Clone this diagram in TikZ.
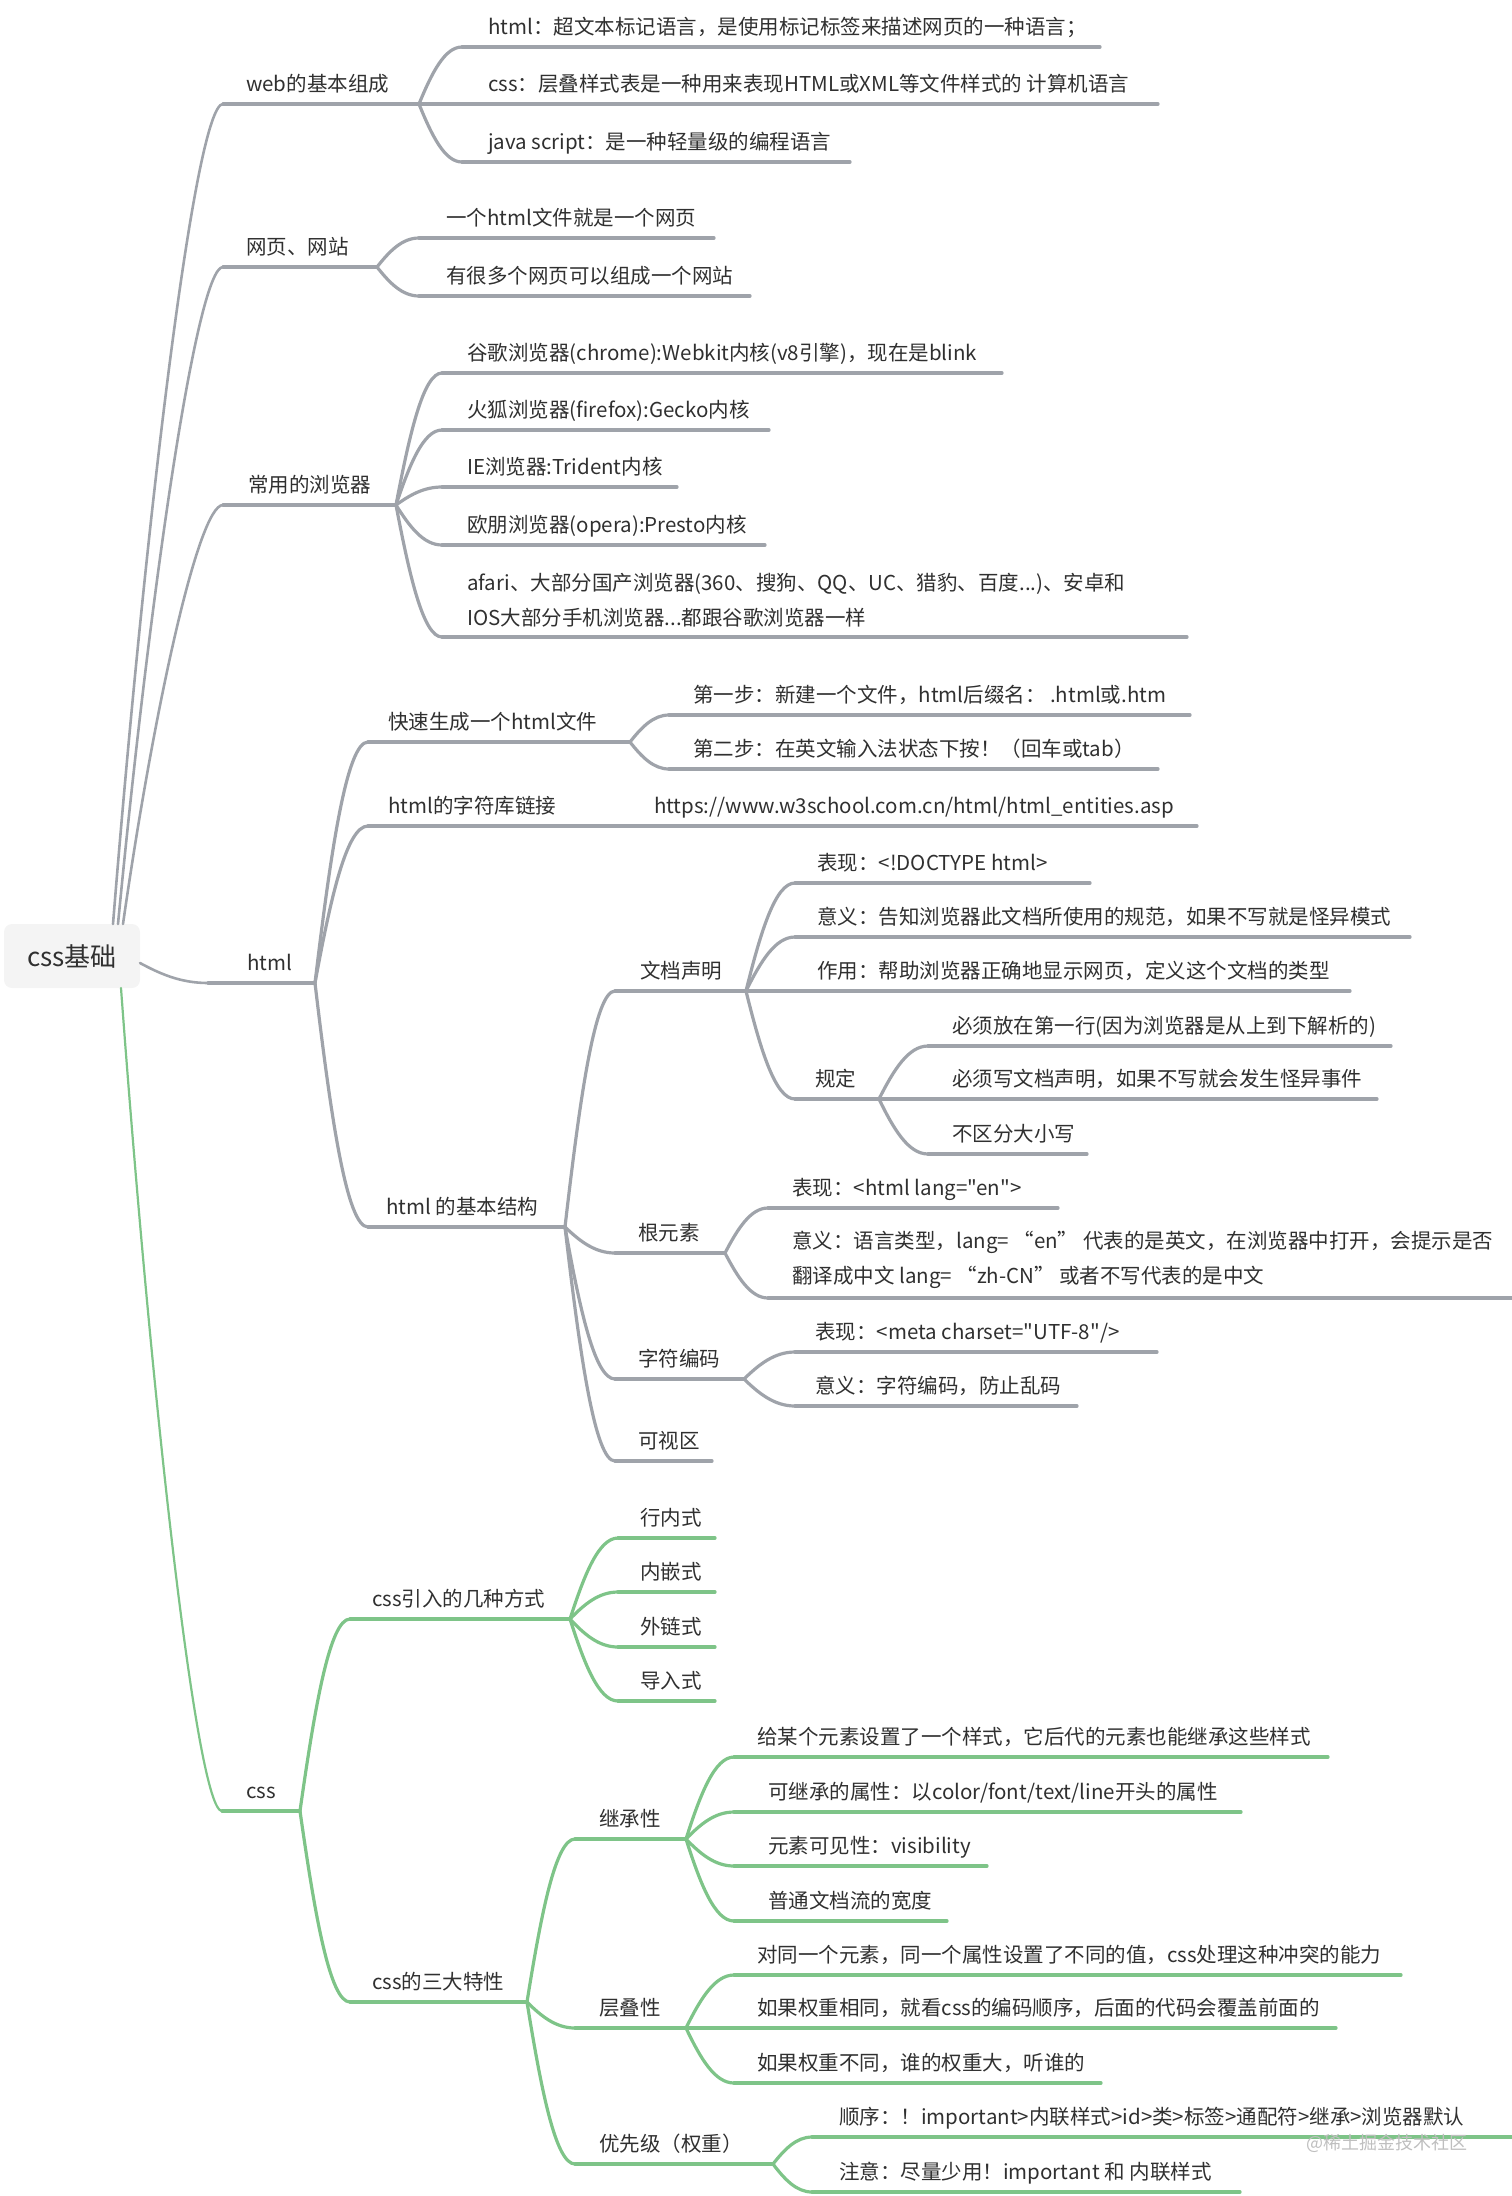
\documentclass[tikz,border=0pt]{standalone}
\usepackage{fontspec}
\newfontfamily\cjkf{Noto Sans CJK SC}
\usetikzlibrary{calc}
\definecolor{lg}{HTML}{9FA3AA}
\definecolor{lgr}{HTML}{7EC488}
\definecolor{tcol}{HTML}{303030}
\definecolor{rootfill}{HTML}{F4F4F4}
\tikzset{
 gl/.style={draw=lg,line width=3.2pt,line cap=round},
 gr/.style={draw=lgr,line width=3.2pt,line cap=round},
 txt/.style={inner sep=0pt,text=tcol,font=\cjkf\fontsize{20.5}{35}\selectfont,align=left},
 rootst/.style={fill=rootfill,rounded corners=8pt,minimum width=136pt,minimum height=64pt,inner sep=0pt,text=tcol,font=\cjkf\fontsize{26}{30}\selectfont},
 mmc/.style={to path={let \p1=(\tikztostart),\p2=(\tikztotarget) in .. controls ({\x1+0.3*(\x2-\x1)},{\y1+0.55*(\y2-\y1)}) and ({\x1+0.6*(\x2-\x1)},{\y2}) .. (\tikztotarget)}},
 mml/.style={to path={let \p1=(\tikztostart),\p2=(\tikztotarget) in .. controls ({\x1+0.3*(\x2-\x1)},{\y1+0.5*(\y2-\y1)}) and ({\x1+0.75*(\x2-\x1)},{\y2}) .. (\tikztotarget)}},
}
% [style]{name}{sx}{ex}{y}{tx}{text}
\newcommand\tp[7][gl]{%
 \coordinate (#2-s) at (#3,#5);
 \coordinate (#2-e) at (#4,#5);
 \draw[#1] (#2-s) -- (#2-e);
 \node[txt,anchor=base west] (#2) at (#6,#5-13) {#7};}
\begin{document}
\begin{tikzpicture}[x=1pt,y=-1pt]
\useasboundingbox (0,0) rectangle (1512,2196);
% root
\node[rootst] (root) at (72,956) {css基础};
\coordinate (r1) at (113,924);
\coordinate (r2) at (118,924);
\coordinate (r3) at (123,924);
\coordinate (r4) at (140,963);
\coordinate (r5) at (121,988);
% level 1
\tp{web}{223}{419}{104}{246}{web的基本组成}
\tp{wy}{223}{377}{267}{246}{网页、网站}
\tp{br}{223}{396}{505}{248}{常用的浏览器}
\tp{html}{208}{315}{983}{247}{html}
\tp[gr]{css}{222}{300}{1811}{246}{css}
\draw[gl,line width=2.6pt] (r1) to[mml] (web-s);
\draw[gl,line width=2.6pt] (r2) to[mml] (wy-s);
\draw[gl,line width=2.6pt] (r3) to[mml] (br-s);
\draw[gl,line width=2.6pt] (r4) to[mmc] (html-s);
\draw[gr,line width=2.2pt] (r5) to[mml] (css-s);
% web
\tp{w1}{462}{1100}{47}{488}{html：超文本标记语言，是使用标记标签来描述网页的一种语言；}
\tp{w2}{462}{1158}{104}{488}{css：层叠样式表是一种用来表现HTML或XML等文件样式的 计算机语言}
\tp{w3}{462}{850}{162}{488}{java script：是一种轻量级的编程语言}
\foreach \q in {w1,w2,w3} \draw[gl] (web-e) to[mmc] (\q-s);
% wangye
\tp{y1}{419}{714}{238}{446}{一个html文件就是一个网页}
\tp{y2}{419}{750}{296}{446}{有很多个网页可以组成一个网站}
\foreach \q in {y1,y2} \draw[gl] (wy-e) to[mmc] (\q-s);
% browsers
\tp{b1}{442}{1002}{373}{467}{谷歌浏览器(chrome):Webkit内核(v8引擎)，现在是blink}
\tp{b2}{442}{769}{430}{467}{火狐浏览器(firefox):Gecko内核}
\tp{b3}{442}{677}{487}{467}{IE浏览器:Trident内核}
\tp{b4}{442}{765}{545}{467}{欧朋浏览器(opera):Presto内核}
\coordinate (b5-s) at (442,637);
\coordinate (b5-e) at (1187,637);
\draw[gl] (b5-s) -- (b5-e);
\node[txt,anchor=west] (b5) at (467,600) {afari、大部分国产浏览器(360、搜狗、QQ、UC、猎豹、百度...)、安卓和\\IOS大部分手机浏览器...都跟谷歌浏览器一样};
\foreach \q in {b1,b2,b3,b4,b5} \draw[gl] (br-e) to[mmc] (\q-s);
% html
\tp{h1}{368}{630}{742}{388}{快速生成一个html文件}
\tp{h2}{368}{630}{826}{388}{html的字符库链接}
\tp{h2u}{630}{1197}{826}{654}{https://www.w3school.com.cn/html/html\_entities.asp}
\tp{h3}{368}{565}{1227}{386}{html 的基本结构}
\foreach \q in {h1,h2,h3} \draw[gl] (html-e) to[mmc] (\q-s);
\tp{h11}{669}{1190}{715}{693}{第一步：新建一个文件，html后缀名： .html或.htm}
\tp{h12}{669}{1158}{769}{693}{第二步：在英文输入法状态下按！（回车或tab）}
\foreach \q in {h11,h12} \draw[gl] (h1-e) to[mmc] (\q-s);
% basic structure
\tp{d}{615}{746}{991}{640}{文档声明}
\tp{g}{615}{725}{1253}{638}{根元素}
\tp{z}{615}{744}{1379}{638}{字符编码}
\tp{k}{615}{712}{1461}{638}{可视区}
\foreach \q in {d,g,z,k} \draw[gl] (h3-e) to[mmc] (\q-s);
\tp{d1}{795}{1090}{883}{817}{表现：<!DOCTYPE html>}
\tp{d2}{795}{1410}{937}{817}{意义：告知浏览器此文档所使用的规范，如果不写就是怪异模式}
\tp{d3}{795}{1350}{991}{817}{作用：帮助浏览器正确地显示网页，定义这个文档的类型}
\tp{d4}{795}{879}{1099}{815}{规定}
\foreach \q in {d1,d2,d3,d4} \draw[gl] (d-e) to[mmc] (\q-s);
\tp{d41}{928}{1391}{1046}{952}{必须放在第一行(因为浏览器是从上到下解析的)}
\tp{d42}{928}{1377}{1099}{952}{必须写文档声明，如果不写就会发生怪异事件}
\tp{d43}{928}{1087}{1154}{952}{不区分大小写}
\foreach \q in {d41,d42,d43} \draw[gl] (d4-e) to[mmc] (\q-s);
\tp{g1}{768}{1058}{1208}{792}{表现：<html lang="en">}
\coordinate (g2-s) at (768,1298);
\coordinate (g2-e) at (1512,1298);
\draw[gl] (g2-s) -- (g2-e);
\node[txt,anchor=west] (g2) at (792,1260) {意义：语言类型，lang= “en” 代表的是英文，在浏览器中打开，会提示是否\\翻译成中文 lang= “zh-CN” 或者不写代表的是中文};
\foreach \q in {g1,g2} \draw[gl] (g-e) to[mmc] (\q-s);
\tp{z1}{795}{1157}{1352}{815}{表现：<meta charset="UTF-8"/>}
\tp{z2}{795}{1077}{1406}{815}{意义：字符编码，防止乱码}
\foreach \q in {z1,z2} \draw[gl] (z-e) to[mmc] (\q-s);
% css
\tp[gr]{c1}{350}{570}{1619}{372}{css引入的几种方式}
\tp[gr]{c2}{350}{527}{2002}{372}{css的三大特性}
\foreach \q in {c1,c2} \draw[gr] (css-e) to[mmc] (\q-s);
\tp[gr]{c11}{618}{715}{1538}{640}{行内式}
\tp[gr]{c12}{618}{715}{1592}{640}{内嵌式}
\tp[gr]{c13}{618}{715}{1647}{640}{外链式}
\tp[gr]{c14}{618}{715}{1701}{640}{导入式}
\foreach \q in {c11,c12,c13,c14} \draw[gr] (c1-e) to[mmc] (\q-s);
\tp[gr]{j}{575}{686}{1839}{599}{继承性}
\tp[gr]{l}{575}{686}{2028}{599}{层叠性}
\tp[gr]{p}{575}{773}{2164}{599}{优先级（权重）}
\foreach \q in {j,l,p} \draw[gr] (c2-e) to[mmc] (\q-s);
\tp[gr]{j1}{734}{1328}{1757}{757}{给某个元素设置了一个样式，它后代的元素也能继承这些样式}
\tp[gr]{j2}{734}{1241}{1812}{768}{可继承的属性：以color/font/text/line开头的属性}
\tp[gr]{j3}{734}{987}{1866}{768}{元素可见性：visibility}
\tp[gr]{j4}{734}{947}{1921}{768}{普通文档流的宽度}
\foreach \q in {j1,j2,j3,j4} \draw[gr] (j-e) to[mmc] (\q-s);
\tp[gr]{l1}{734}{1401}{1975}{757}{对同一个元素，同一个属性设置了不同的值，css处理这种冲突的能力}
\tp[gr]{l2}{734}{1336}{2028}{757}{如果权重相同，就看css的编码顺序，后面的代码会覆盖前面的}
\tp[gr]{l3}{734}{1101}{2083}{757}{如果权重不同，谁的权重大，听谁的}
\foreach \q in {l1,l2,l3} \draw[gr] (l-e) to[mmc] (\q-s);
\tp[gr]{p1}{812}{1512}{2137}{839}{顺序：！important>内联样式>id>类>标签>通配符>继承>浏览器默认}
\tp[gr]{p2}{812}{1240}{2192}{839}{注意：尽量少用！important 和 内联样式}
\foreach \q in {p1,p2} \draw[gr] (p-e) to[mmc] (\q-s);
% watermark
\node[inner sep=0pt,text=black!25,font=\cjkf\fontsize{18}{20}\selectfont] (wm) at (1387,2143) {@稀土掘金技术社区};
\end{tikzpicture}
\end{document}
